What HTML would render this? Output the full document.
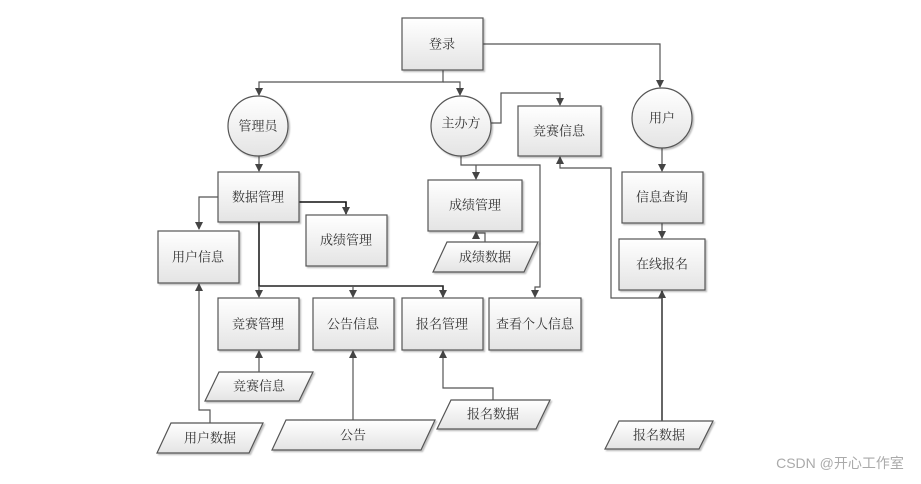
<!DOCTYPE html>
<html><head><meta charset="utf-8"><style>
body{margin:0;background:#fff;width:921px;height:479px;overflow:hidden}
svg text{font-family:"Liberation Serif","Noto Serif CJK SC",serif;font-size:13px;fill:#333;text-anchor:middle;dominant-baseline:central}
</style></head><body>
<svg width="921" height="479" viewBox="0 0 921 479">
<defs>
<linearGradient id="g" x1="0" y1="0" x2="0" y2="1"><stop offset="0" stop-color="#ffffff"/><stop offset="1" stop-color="#e4e4e4"/></linearGradient>
<marker id="a" markerWidth="8" markerHeight="8" refX="7" refY="4" orient="auto" markerUnits="userSpaceOnUse"><path d="M0,0 L8,4 L0,8 z" fill="#444"/></marker>
<filter id="s" x="-10%" y="-10%" width="130%" height="130%"><feDropShadow dx="1.5" dy="1.5" stdDeviation="0.8" flood-color="#000" flood-opacity="0.25"/></filter>
</defs>
<g fill="none" stroke="#555" stroke-width="1.2">
<!-- 登录 connections -->
<polyline points="483,44 660,44 660,87" marker-end="url(#a)"/>
<polyline points="443,70 443,82 259,82 259,95" marker-end="url(#a)"/>
<polyline points="443,82 460,82 460,95" marker-end="url(#a)"/>
<!-- 主办方 -->
<polyline points="491,123 501,123 501,93 560,93 560,105" marker-end="url(#a)"/>
<polyline points="461,156 461,165 540,165 540,287 535,287 535,297" marker-end="url(#a)"/>
<polyline points="476,165 476,179" marker-end="url(#a)"/>
<polyline points="485,242 485,233 476,233 476,232" marker-end="url(#a)"/>
<polyline points="662,298 611,298 611,168 560,168 560,157" marker-end="url(#a)"/>
<!-- 管理员 -->
<polyline points="259,156 259,171" marker-end="url(#a)"/>
<polyline points="218,197 199,197 199,229" marker-end="url(#a)"/>
<polyline points="299,202 346,202 346,214" stroke="#111" stroke-width="1.6" marker-end="url(#a)"/>
<polyline points="259,222 259,286 443,286 443,297" stroke="#222" stroke-width="1.6" marker-end="url(#a)"/>
<polyline points="259,286 259,297" marker-end="url(#a)"/>
<polyline points="353,286 353,297" marker-end="url(#a)"/>
<polyline points="259,372 259,351" marker-end="url(#a)"/>
<polyline points="210,423 210,410 199,410 199,284" marker-end="url(#a)"/>
<polyline points="353,420 353,351" marker-end="url(#a)"/>
<polyline points="493,400 493,388 443,388 443,351" marker-end="url(#a)"/>
<!-- 用户 -->
<polyline points="662,148 662,171" marker-end="url(#a)"/>
<polyline points="662,223 662,238" marker-end="url(#a)"/>
<polyline points="662,421 662,291" stroke-width="1.8" marker-end="url(#a)"/>
</g>
<g fill="url(#g)" stroke="#555" stroke-width="1.2" filter="url(#s)">
<rect x="402" y="18" width="81" height="52"/>
<circle cx="258" cy="126" r="30"/>
<circle cx="461" cy="126" r="30"/>
<circle cx="662" cy="118" r="30"/>
<rect x="518" y="106" width="83" height="50"/>
<rect x="428" y="180" width="94" height="51"/>
<polygon points="447,242 538,242 524,272 433,272"/>
<rect x="218" y="172" width="81" height="50"/>
<rect x="158" y="231" width="81" height="52"/>
<rect x="306" y="215" width="81" height="51"/>
<rect x="218" y="298" width="81" height="52"/>
<rect x="313" y="298" width="81" height="52"/>
<rect x="402" y="298" width="81" height="52"/>
<rect x="489" y="298" width="92" height="52"/>
<polygon points="219,372 313,372 299,401 205,401"/>
<polygon points="171,423 263,423 249,453 157,453"/>
<polygon points="286,420 435,420 421,450 272,450"/>
<polygon points="451,400 550,400 536,429 437,429"/>
<rect x="622" y="172" width="81" height="51"/>
<rect x="619" y="239" width="86" height="51"/>
<polygon points="619,421 713,421 699,449 605,449"/>
</g>
<text x="442" y="44">登录</text>
<text x="258" y="126">管理员</text>
<text x="461" y="123">主办方</text>
<text x="662" y="118">用户</text>
<text x="559" y="131">竞赛信息</text>
<text x="475" y="205">成绩管理</text>
<text x="485" y="257">成绩数据</text>
<text x="258" y="197">数据管理</text>
<text x="198" y="257">用户信息</text>
<text x="346" y="240">成绩管理</text>
<text x="258" y="324">竞赛管理</text>
<text x="353" y="324">公告信息</text>
<text x="442" y="324">报名管理</text>
<text x="535" y="324">查看个人信息</text>
<text x="259" y="386">竞赛信息</text>
<text x="210" y="438">用户数据</text>
<text x="353" y="435">公告</text>
<text x="493" y="414">报名数据</text>
<text x="662" y="197">信息查询</text>
<text x="662" y="264">在线报名</text>
<text x="659" y="435">报名数据</text>
<text x="840" y="463" style="font-family:'Liberation Sans','Noto Sans CJK SC',sans-serif;font-size:14px;fill:#aaa">CSDN @开心工作室</text>
</svg>
</body></html>
